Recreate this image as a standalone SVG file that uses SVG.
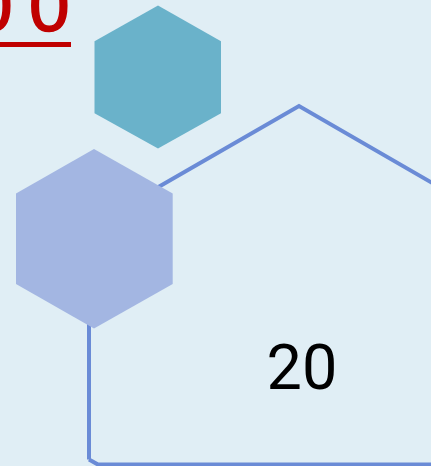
<svg xmlns="http://www.w3.org/2000/svg" width="431" height="466" viewBox="0 0 431 466">
  <style>
    .num { font-family: "Roboto", "Liberation Sans", sans-serif; }
    .title { font-family: "Liberation Sans", "Roboto", sans-serif; }
    .outline { fill: none; stroke: #6a8bd6; stroke-width: 4; stroke-linejoin: miter; }
  </style>
  <rect x="0" y="0" width="431" height="466" fill="#e0eef5"/>
  <g id="title">
    <text class="title" x="-28 29" y="30.5" font-size="73" fill="#c00000" stroke="#c00000" stroke-width="1.6">00</text>
    <rect x="-2" y="42" width="73" height="5" fill="#c00000"/>
  </g>
  <g id="node-main">
    <path class="outline" d="M89,459.5 L89,227 L299,106 L480,210.5 M89,459.5 L98,464.6 L440,464.6"/>
    <text class="num" x="302" y="389" font-size="63" text-anchor="middle" fill="#000000">20</text>
  </g>
  <g id="node-left">
    <polygon points="94,149 172.7,193.5 172.7,284 94,328.5 16,284 16,193.5" fill="#a3b6e2"/>
  </g>
  <g id="node-top">
    <polygon points="158,5.5 221,41.3 221,113.3 158,148.5 94.5,113.3 94.5,41.3" fill="#6ab2ca"/>
  </g>
</svg>
